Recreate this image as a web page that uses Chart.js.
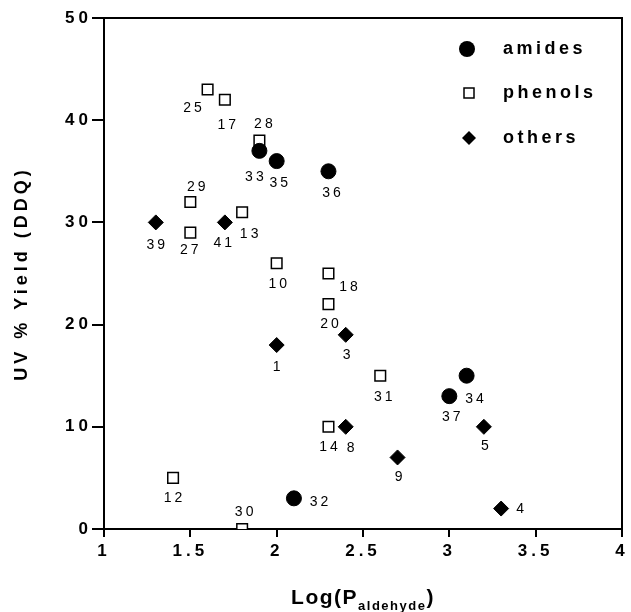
<!DOCTYPE html>
<html><head><meta charset="utf-8">
<script src="https://cdn.jsdelivr.net/npm/chart.js@4.4.1/dist/chart.umd.min.js"></script>
<style>html,body{margin:0;padding:0;background:#fff}#wrap{width:631px;height:612px}</style>
</head><body><div id="wrap"><canvas id="c" width="631" height="612"></canvas></div>
<script>
// ---- data ----
const seriesNames = ['amides', 'phenols', 'others'];
const amidesX = [1.9, 2.0, 2.3, 2.1, 3.0, 3.1];
const amidesY = [37, 36, 35, 3, 13, 15];
const amidesIds = ['33', '35', '36', '32', '37', '34'];
const phenolsX = [1.6, 1.7, 1.9, 1.5, 1.5, 1.8, 2.0, 2.3, 2.3, 2.6, 2.3, 1.4, 1.8];
const phenolsY = [43, 42, 38, 32, 29, 31, 26, 25, 22, 15, 10, 5, 0];
const phenolsIds = ['25', '17', '28', '29', '27', '13', '10', '18', '20', '31', '14', '12', '30'];
const othersX = [1.3, 1.7, 2.0, 2.4, 2.4, 2.7, 3.2, 3.3];
const othersY = [30, 30, 18, 19, 10, 7, 10, 2];
const othersIds = ['39', '41', '1', '3', '8', '9', '5', '4'];
const xTicks = [1, 1.5, 2, 2.5, 3, 3.5, 4];
const yTicks = [0, 10, 20, 30, 40, 50];
const yTitle = 'UV % Yield (DDQ)';
const xTitleMain = 'Log(P';
const xTitleSub = 'aldehyde';
const xTitleEnd = ')';

// ---- label placement (pixel offsets from the point) ----
const labelOffsets = {
  '33': [-5, 26], '35': [2, 22], '36': [3, 22], '32': [25, 4], '37': [2, 21], '34': [8, 23],
  '25': [-15, 19], '17': [2, 25], '28': [4, -16], '29': [6, -15], '27': [-1, 18], '13': [7, 22],
  '10': [1, 21], '18': [20, 14], '20': [1, 20], '31': [3, 21], '14': [0, 20], '12': [0, 20], '30': [2, -17],
  '39': [0, 23], '41': [-2, 21], '1': [0, 22], '3': [1, 20], '8': [5, 21], '9': [1, 20], '5': [1, 19], '4': [19, 1]
};

const FONT = '"Liberation Sans", Arial, Helvetica, sans-serif';
const AXIS_SPACING = '4px';
Chart.defaults.font.family = FONT;
Chart.defaults.color = '#000';

function pts(xs, ys) { return xs.map((x, i) => ({ x: x, y: ys[i] })); }

const datasets = [
  { label: seriesNames[0], data: pts(amidesX, amidesY), ids: amidesIds,
    pointStyle: 'circle', pointRadius: 7.5, backgroundColor: '#000', borderColor: '#000', borderWidth: 1 },
  { label: seriesNames[1], data: pts(phenolsX, phenolsY), ids: phenolsIds,
    pointStyle: 'rect', pointRadius: 7.5, backgroundColor: '#fff', borderColor: '#000', borderWidth: 1.5 },
  { label: seriesNames[2], data: pts(othersX, othersY), ids: othersIds,
    pointStyle: 'rectRot', pointRadius: 7.5, backgroundColor: '#000', borderColor: '#000', borderWidth: 1 }
];

function spacing(chart) { chart.ctx.letterSpacing = AXIS_SPACING; }

const setupPlugin = {
  id: 'setup',
  beforeInit: spacing,
  beforeUpdate: spacing,
  beforeLayout: spacing,
  beforeDraw(chart) {
    const ctx = chart.ctx;
    ctx.letterSpacing = AXIS_SPACING;
    ctx.save();
    ctx.fillStyle = '#fff';
    ctx.fillRect(0, 0, chart.width, chart.height);
    ctx.restore();
  },
  beforeDatasetsDraw(chart) {
    const a = chart.chartArea, ctx = chart.ctx;
    ctx.save();
    ctx.strokeStyle = '#000';
    ctx.lineWidth = 2;
    ctx.strokeRect(a.left, a.top, a.right - a.left, a.bottom - a.top);
    ctx.restore();
  },
  afterDatasetsDraw(chart) {
    const ctx = chart.ctx;
    ctx.save();
    ctx.fillStyle = '#000';
    ctx.font = '14px ' + FONT;
    ctx.letterSpacing = '3px';
    ctx.textAlign = 'center';
    ctx.textBaseline = 'middle';
    chart.data.datasets.forEach((ds, di) => {
      const meta = chart.getDatasetMeta(di);
      meta.data.forEach((el, i) => {
        const id = ds.ids[i];
        const off = labelOffsets[id] || [0, 20];
        ctx.fillText(id, el.x + off[0] + 1.5, el.y + off[1]);
      });
    });
    // legend
    const lx = 467, tx = 503, rows = [49, 93, 138];
    ctx.font = 'bold 18px ' + FONT;
    ctx.letterSpacing = '3.5px';
    ctx.textAlign = 'left';
    chart.data.datasets.forEach((ds, di) => {
      const y = rows[di];
      ctx.beginPath();
      if (ds.pointStyle === 'circle') {
        ctx.arc(lx, y, 8, 0, Math.PI * 2);
        ctx.fillStyle = '#000'; ctx.fill();
      } else if (ds.pointStyle === 'rect') {
        ctx.rect(lx + 2 - 5, y - 5, 10, 10);
        ctx.fillStyle = '#fff'; ctx.fill();
        ctx.lineWidth = 1.5; ctx.strokeStyle = '#000'; ctx.stroke();
      } else {
        ctx.moveTo(lx + 2, y - 7); ctx.lineTo(lx + 9, y); ctx.lineTo(lx + 2, y + 7); ctx.lineTo(lx - 5, y);
        ctx.closePath(); ctx.fillStyle = '#000'; ctx.fill();
      }
      ctx.fillStyle = '#000';
      ctx.fillText(ds.label, tx, y);
    });
    // x axis title with subscript
    const mainF = 'bold 21px ' + FONT, subF = 'bold 13px ' + FONT;
    ctx.letterSpacing = '1.5px';
    ctx.font = mainF; const w1 = ctx.measureText(xTitleMain).width, w3 = ctx.measureText(xTitleEnd).width;
    ctx.font = subF; const w2 = ctx.measureText(xTitleSub).width;
    const a = chart.chartArea;
    let x = (a.left + a.right) / 2 - (w1 + w2 + w3) / 2;
    const by = 604;
    ctx.textBaseline = 'alphabetic';
    ctx.font = mainF; ctx.fillText(xTitleMain, x, by); x += w1;
    ctx.font = subF; ctx.fillText(xTitleSub, x, by + 6); x += w2;
    ctx.font = mainF; ctx.fillText(xTitleEnd, x, by);
    ctx.restore();
  }
};

function fixY(scale) { scale.width = 104; scale.paddingTop = 0; scale.paddingBottom = 0; scale.paddingLeft = 0; scale.paddingRight = 0; }
function fixX(scale) { scale.height = 83; scale.paddingLeft = 0; scale.paddingRight = 0; scale.paddingTop = 0; scale.paddingBottom = 0; }
function fmt(v) { return String(+v); }

new Chart(document.getElementById('c'), {
  type: 'scatter',
  data: { datasets: datasets },
  plugins: [setupPlugin],
  options: {
    responsive: false,
    animation: false,
    devicePixelRatio: 1,
    layout: { padding: { top: 18, right: 5, left: 0, bottom: 0 } },
    plugins: { legend: { display: false }, tooltip: { enabled: false } },
    scales: {
      x: {
        type: 'linear', min: xTicks[0], max: xTicks[xTicks.length - 1],
        afterBuildTicks(scale) { scale.ticks = xTicks.map(v => ({ value: v })); },
        afterFit: fixX,
        ticks: { font: { size: 17, weight: 'bold' }, padding: 4, color: '#000', maxRotation: 0, autoSkip: false, callback: fmt },
        grid: { drawOnChartArea: false, drawTicks: true, tickLength: 8, color: '#000', lineWidth: 2 },
        border: { display: true, color: '#000', width: 2 }
      },
      y: {
        type: 'linear', min: yTicks[0], max: yTicks[yTicks.length - 1],
        afterBuildTicks(scale) { scale.ticks = yTicks.map(v => ({ value: v })); },
        afterFit: fixY,
        ticks: { font: { size: 17, weight: 'bold' }, padding: 0, color: '#000', autoSkip: false, callback: fmt },
        grid: { drawOnChartArea: false, drawTicks: true, tickLength: 12, color: '#000', lineWidth: 2 },
        border: { display: true, color: '#000', width: 2 },
        title: { display: true, text: yTitle, font: { size: 18, weight: 'bold' }, color: '#000', padding: { top: 11, bottom: 0 } }
      }
    }
  }
});
</script></body></html>
